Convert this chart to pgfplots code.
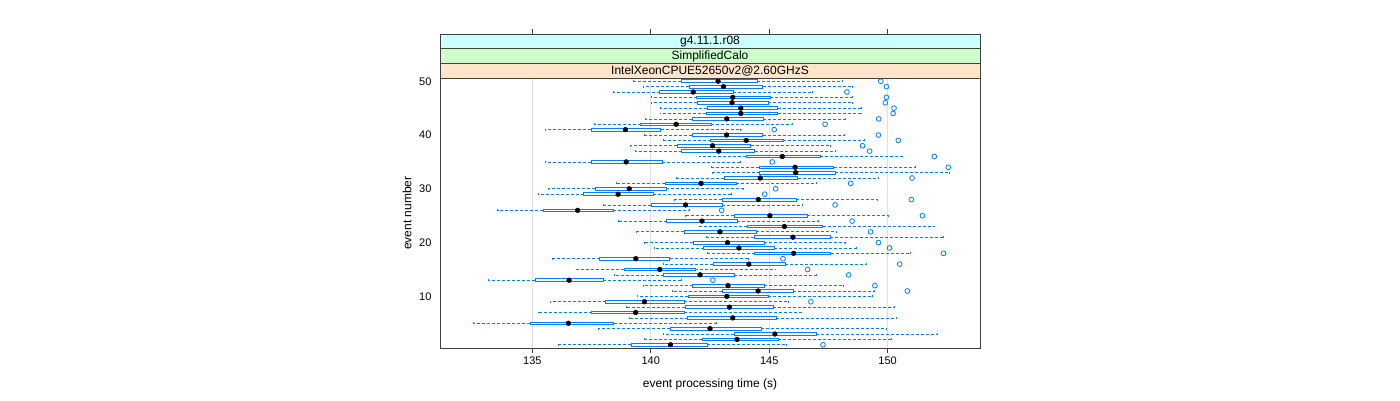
\documentclass[border=0pt]{standalone}
\usepackage{pgfplots}
\pgfplotsset{compat=1.18}
\usepackage{pgfplotstable}
\usepgfplotslibrary{statistics}
\usepackage{fontspec}
\setmainfont{Liberation Sans}
\definecolor{bwblue}{HTML}{0080FF}
\definecolor{stripA}{HTML}{FFE5CC}
\definecolor{stripB}{HTML}{CCFFCC}
\definecolor{stripC}{HTML}{CCFFFF}

\pgfplotstableread{
ev lw lq med uq uw
1 136.09 139.18 140.83 142.39 145.71
2 139.74 142.18 143.64 145.38 150.17
3 140.51 143.51 145.24 146.99 152.09
4 137.79 140.83 142.50 144.66 149.93
5 132.49 134.91 136.52 138.43 142.78
6 139.11 141.56 143.46 145.30 150.38
7 135.24 137.50 139.36 141.40 146.34
8 138.97 141.45 143.32 145.16 150.30
9 135.77 138.09 139.73 141.40 145.80
10 139.42 141.57 143.21 144.96 149.36
11 140.89 143.02 144.53 146.00 149.45
12 139.67 141.77 143.26 144.79 148.13
13 133.14 135.12 136.55 138.00 141.28
14 138.47 140.55 142.08 143.51 146.98
15 136.86 138.88 140.38 141.87 145.25
16 140.55 142.64 144.14 145.68 149.08
17 135.84 137.85 139.37 140.80 144.13
18 142.39 144.39 146.03 147.60 150.97
19 140.14 142.24 143.72 145.21 148.69
20 139.73 141.78 143.24 144.79 148.21
21 142.34 144.36 146.00 147.58 152.36
22 139.37 141.40 142.92 144.44 147.82
23 142.03 144.07 145.64 147.25 151.97
24 138.65 140.67 142.16 143.66 147.07
25 141.45 143.51 145.03 146.61 150.05
26 133.54 135.46 136.91 138.40 141.62
27 138.01 140.01 141.47 143.01 146.39
28 141.00 143.02 144.54 146.15 149.55
29 135.24 137.16 138.62 140.11 143.42
30 135.68 137.64 139.09 140.66 143.89
31 138.53 140.60 142.12 143.61 147.01
32 141.06 143.09 144.62 146.21 149.62
33 142.59 144.60 146.12 147.79 152.59
34 142.55 144.57 146.09 147.73 151.16
35 135.55 137.48 138.96 140.48 143.77
36 142.03 144.03 145.55 147.16 150.60
37 139.34 141.31 142.87 144.38 147.79
38 139.14 141.12 142.61 144.22 147.56
39 140.52 142.53 144.03 145.59 149.03
40 139.73 141.74 143.20 144.73 148.19
41 135.55 137.48 138.93 140.41 143.80
42 137.61 139.58 141.07 142.55 145.97
43 139.76 141.74 143.21 144.75 148.21
44 140.39 142.34 143.80 145.35 148.90
45 140.39 142.37 143.80 145.35 148.90
46 140.01 141.97 143.43 144.96 148.53
47 140.01 141.94 143.46 145.03 148.53
48 138.40 140.38 141.79 143.49 146.82
49 139.67 141.62 143.07 144.72 148.49
50 139.28 141.28 142.84 144.48 148.09
}\boxdata

\pgfplotstableread{
x ev
147.27 1
146.76 9
150.83 11
149.46 12
142.62 13
148.35 14
146.62 15
150.51 16
145.58 17
152.36 18
150.08 19
149.61 20
149.28 22
148.50 24
151.47 25
142.99 26
147.78 27
151.00 28
144.81 29
145.27 30
148.44 31
151.03 32
152.56 34
145.13 35
151.97 36
149.24 37
148.94 38
150.45 39
149.61 40
145.21 41
147.36 42
149.62 43
150.23 44
150.27 45
149.90 46
149.95 47
148.28 48
149.95 49
149.71 50
}\outdata

\begin{document}
\begin{tikzpicture}
\path[use as bounding box] (0pt,0pt) rectangle (1400pt,-400pt);
\begin{axis}[
  name=ax,
  at={(440pt,-348pt)}, anchor=south west,
  scale only axis, width=540pt, height=270pt,
  xmin=131.1, xmax=153.9, ymin=0.4, ymax=50.6,
  clip=false,
  axis line style={black!75, line width=0.7pt},
  xtick={135,140,145,150},
  ytick={10,20,30,40,50},
  xtick pos=left, ytick pos=left,
  tick align=outside,
  major tick length=5pt,
  xtick style={black!75, line width=0.7pt},
  ytick style={draw=none},
  xmajorgrids,
  major grid style={black!12, line width=0.6pt},
  /pgf/number format/assume math mode=true,
  tick label style={font=\fontsize{11}{13}\selectfont},
  every axis x label/.style={at={(axis description cs:0.5,0)}, yshift=-36pt, anchor=center},
  every axis y label/.style={at={(axis description cs:0,0.5)}, xshift=-33pt, rotate=90, anchor=center},
  label style={font=\fontsize{12}{14}\selectfont},
  xlabel={event processing time (s)},
  ylabel={event number},
  boxplot/every box/.style={draw=bwblue, line width=0.8pt, fill=none},
  boxplot/every whisker/.style={draw=bwblue, dash pattern=on 3pt off 2pt, line width=0.7pt},
  boxplot/every median/.style={draw=none},
]
\pgfplotsinvokeforeach{0,...,49}{
  \pgfplotstablegetelem{#1}{ev}\of\boxdata \let\bev\pgfplotsretval
  \pgfplotstablegetelem{#1}{lw}\of\boxdata \let\blw\pgfplotsretval
  \pgfplotstablegetelem{#1}{lq}\of\boxdata \let\blq\pgfplotsretval
  \pgfplotstablegetelem{#1}{med}\of\boxdata \let\bmed\pgfplotsretval
  \pgfplotstablegetelem{#1}{uq}\of\boxdata \let\buq\pgfplotsretval
  \pgfplotstablegetelem{#1}{uw}\of\boxdata \let\buw\pgfplotsretval
  \edef\doplot{\noexpand\addplot[boxplot prepared={draw position=\bev,
      lower whisker=\blw, lower quartile=\blq, median=\bmed,
      upper quartile=\buq, upper whisker=\buw,
      box extend=0.5, whisker extend=0.35}] coordinates {};}
  \doplot
}
\addplot[only marks, mark=*, mark size=2.4pt, black] table[x=med, y=ev] {\boxdata};
\addplot[only marks, mark=o, mark size=2.4pt, bwblue, mark options={line width=0.8pt}] table[x=x, y=ev] {\outdata};
\pgfplotsinvokeforeach{135,140,145,150}{
  \draw[black!75, line width=0.7pt] (axis cs:#1,50.6) ++(0pt,44pt) -- ++(0pt,5pt);
}
\end{axis}
\draw[black!75, line width=0.7pt, fill=stripA] (ax.north west) rectangle ([yshift=14.7pt]ax.north east);
\draw[black!75, line width=0.7pt, fill=stripB] ([yshift=14.7pt]ax.north west) rectangle ([yshift=29.4pt]ax.north east);
\draw[black!75, line width=0.7pt, fill=stripC] ([yshift=29.4pt]ax.north west) rectangle ([yshift=44.1pt]ax.north east);
\node[font=\fontsize{12}{14}\selectfont, inner sep=0pt] at ([yshift=7.35pt]ax.north) {IntelXeonCPUE52650v2@2.60GHzS};
\node[font=\fontsize{12}{14}\selectfont, inner sep=0pt] at ([yshift=22.05pt]ax.north) {SimplifiedCalo};
\node[font=\fontsize{12}{14}\selectfont, inner sep=0pt] at ([yshift=36.75pt]ax.north) {g4.11.1.r08};
\end{tikzpicture}
\end{document}
